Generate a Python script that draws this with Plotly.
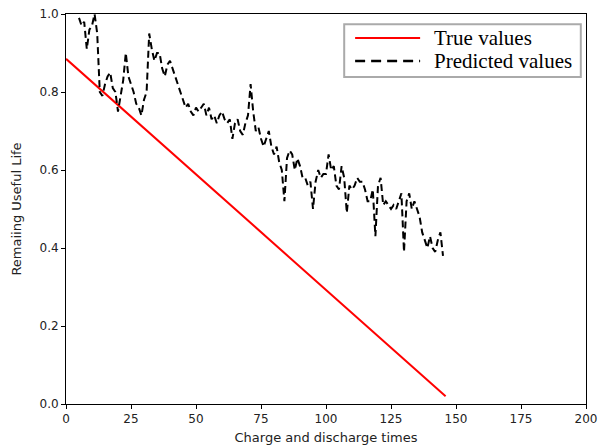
import plotly.graph_objects as go

true_x = [0, 146]
true_y = [0.885, 0.02]

pred_x = list(range(5, 146))
pred_y = [
    0.99, 0.97, 0.98, 0.91, 0.96, 0.97, 1.00, 0.95, 0.80, 0.79,  # 5-14
    0.82, 0.84, 0.85, 0.81, 0.80, 0.75, 0.79, 0.83, 0.90, 0.84,  # 15-24
    0.82, 0.80, 0.77, 0.76, 0.74, 0.78, 0.80, 0.95, 0.91, 0.88,  # 25-34
    0.90, 0.90, 0.86, 0.84, 0.87, 0.88, 0.86, 0.84, 0.82, 0.80,  # 35-44
    0.78, 0.76, 0.77, 0.75, 0.74, 0.76, 0.75, 0.76, 0.77, 0.74,  # 45-54
    0.76, 0.73, 0.74, 0.72, 0.74, 0.75, 0.73, 0.72, 0.73, 0.68,  # 55-64
    0.72, 0.73, 0.70, 0.69, 0.72, 0.74, 0.82, 0.75, 0.70, 0.71,  # 65-74
    0.68, 0.66, 0.68, 0.70, 0.66, 0.64, 0.66, 0.62, 0.60, 0.52,  # 75-84
    0.63, 0.65, 0.64, 0.60, 0.63, 0.61, 0.58, 0.58, 0.56, 0.57,  # 85-94
    0.50, 0.57, 0.60, 0.58, 0.59, 0.59, 0.64, 0.60, 0.61, 0.56,  # 95-104
    0.55, 0.61, 0.58, 0.49, 0.56, 0.55, 0.56, 0.58, 0.57, 0.57,  # 105-114
    0.55, 0.52, 0.52, 0.55, 0.43, 0.56, 0.58, 0.51, 0.52, 0.51,  # 115-124
    0.50, 0.51, 0.50, 0.52, 0.54, 0.39, 0.52, 0.54, 0.50, 0.52,  # 125-134
    0.50, 0.48, 0.44, 0.42, 0.40, 0.43, 0.40, 0.39, 0.42, 0.44,  # 135-144
    0.38,                                                        # 145
]

series_names = ["True values", "Predicted values"]
x_ticks = [0, 25, 50, 75, 100, 125, 150, 175, 200]
y_ticks = [0.0, 0.2, 0.4, 0.6, 0.8, 1.0]

RED = "#ff0000"
fig = go.Figure()
fig.add_trace(go.Scatter(x=true_x, y=true_y, mode="lines", name=series_names[0],
                         showlegend=False, line=dict(color=RED, width=2)))
fig.add_trace(go.Scatter(x=pred_x, y=pred_y, mode="lines", name=series_names[1],
                         showlegend=False, line=dict(color="black", width=2, dash="7px,4px")))

# Matplotlib-style legend box (paper coordinates)
lx0, lx1, ly0, ly1 = 0.535, 0.990, 0.8385, 0.974
fig.add_shape(type="rect", xref="paper", yref="paper", x0=lx0, x1=lx1, y0=ly0, y1=ly1,
              line=dict(color="#aaaaaa", width=2), fillcolor="white", layer="above")
rows = [0.9385, 0.8795]
styles = [dict(color=RED, width=2), dict(color="black", width=2.5, dash="10px,6px")]
for name, ry, st in zip(series_names, rows, styles):
    fig.add_shape(type="line", xref="paper", yref="paper", x0=0.556, x1=0.681, y0=ry, y1=ry,
                  line=st, layer="above")
    fig.add_annotation(xref="paper", yref="paper", x=0.703, y=ry, text=name, showarrow=False,
                       xanchor="left", yanchor="middle",
                       font=dict(family="Liberation Serif", size=21, color="black"))

axis_common = dict(showgrid=False, zeroline=False, showline=True, linecolor="black",
                   linewidth=1, mirror=True, ticks="outside", ticklen=4, tickcolor="black",
                   automargin=False,
                   tickfont=dict(family="DejaVu Sans", size=12, color="#222"))

fig.update_layout(
    width=605, height=447,
    margin=dict(l=66, r=19, t=14, b=43),
    plot_bgcolor="white", paper_bgcolor="white",
    xaxis=dict(range=[0, 200], tickvals=x_ticks, ticktext=[str(v) for v in x_ticks],
               title=dict(text="Charge and discharge times", standoff=7,
                          font=dict(family="DejaVu Sans", size=13, color="#222")),
               **axis_common),
    yaxis=dict(range=[0, 1.0], tickvals=y_ticks, ticktext=[f"{v:.1f}" for v in y_ticks],
               title=dict(text="Remaiing Useful Life", standoff=14,
                          font=dict(family="DejaVu Sans", size=13, color="#222")),
               **axis_common),
    showlegend=False,
)

fig.write_html("out.html", config={"displayModeBar": False},
               post_script="document.body.style.margin='0';")
